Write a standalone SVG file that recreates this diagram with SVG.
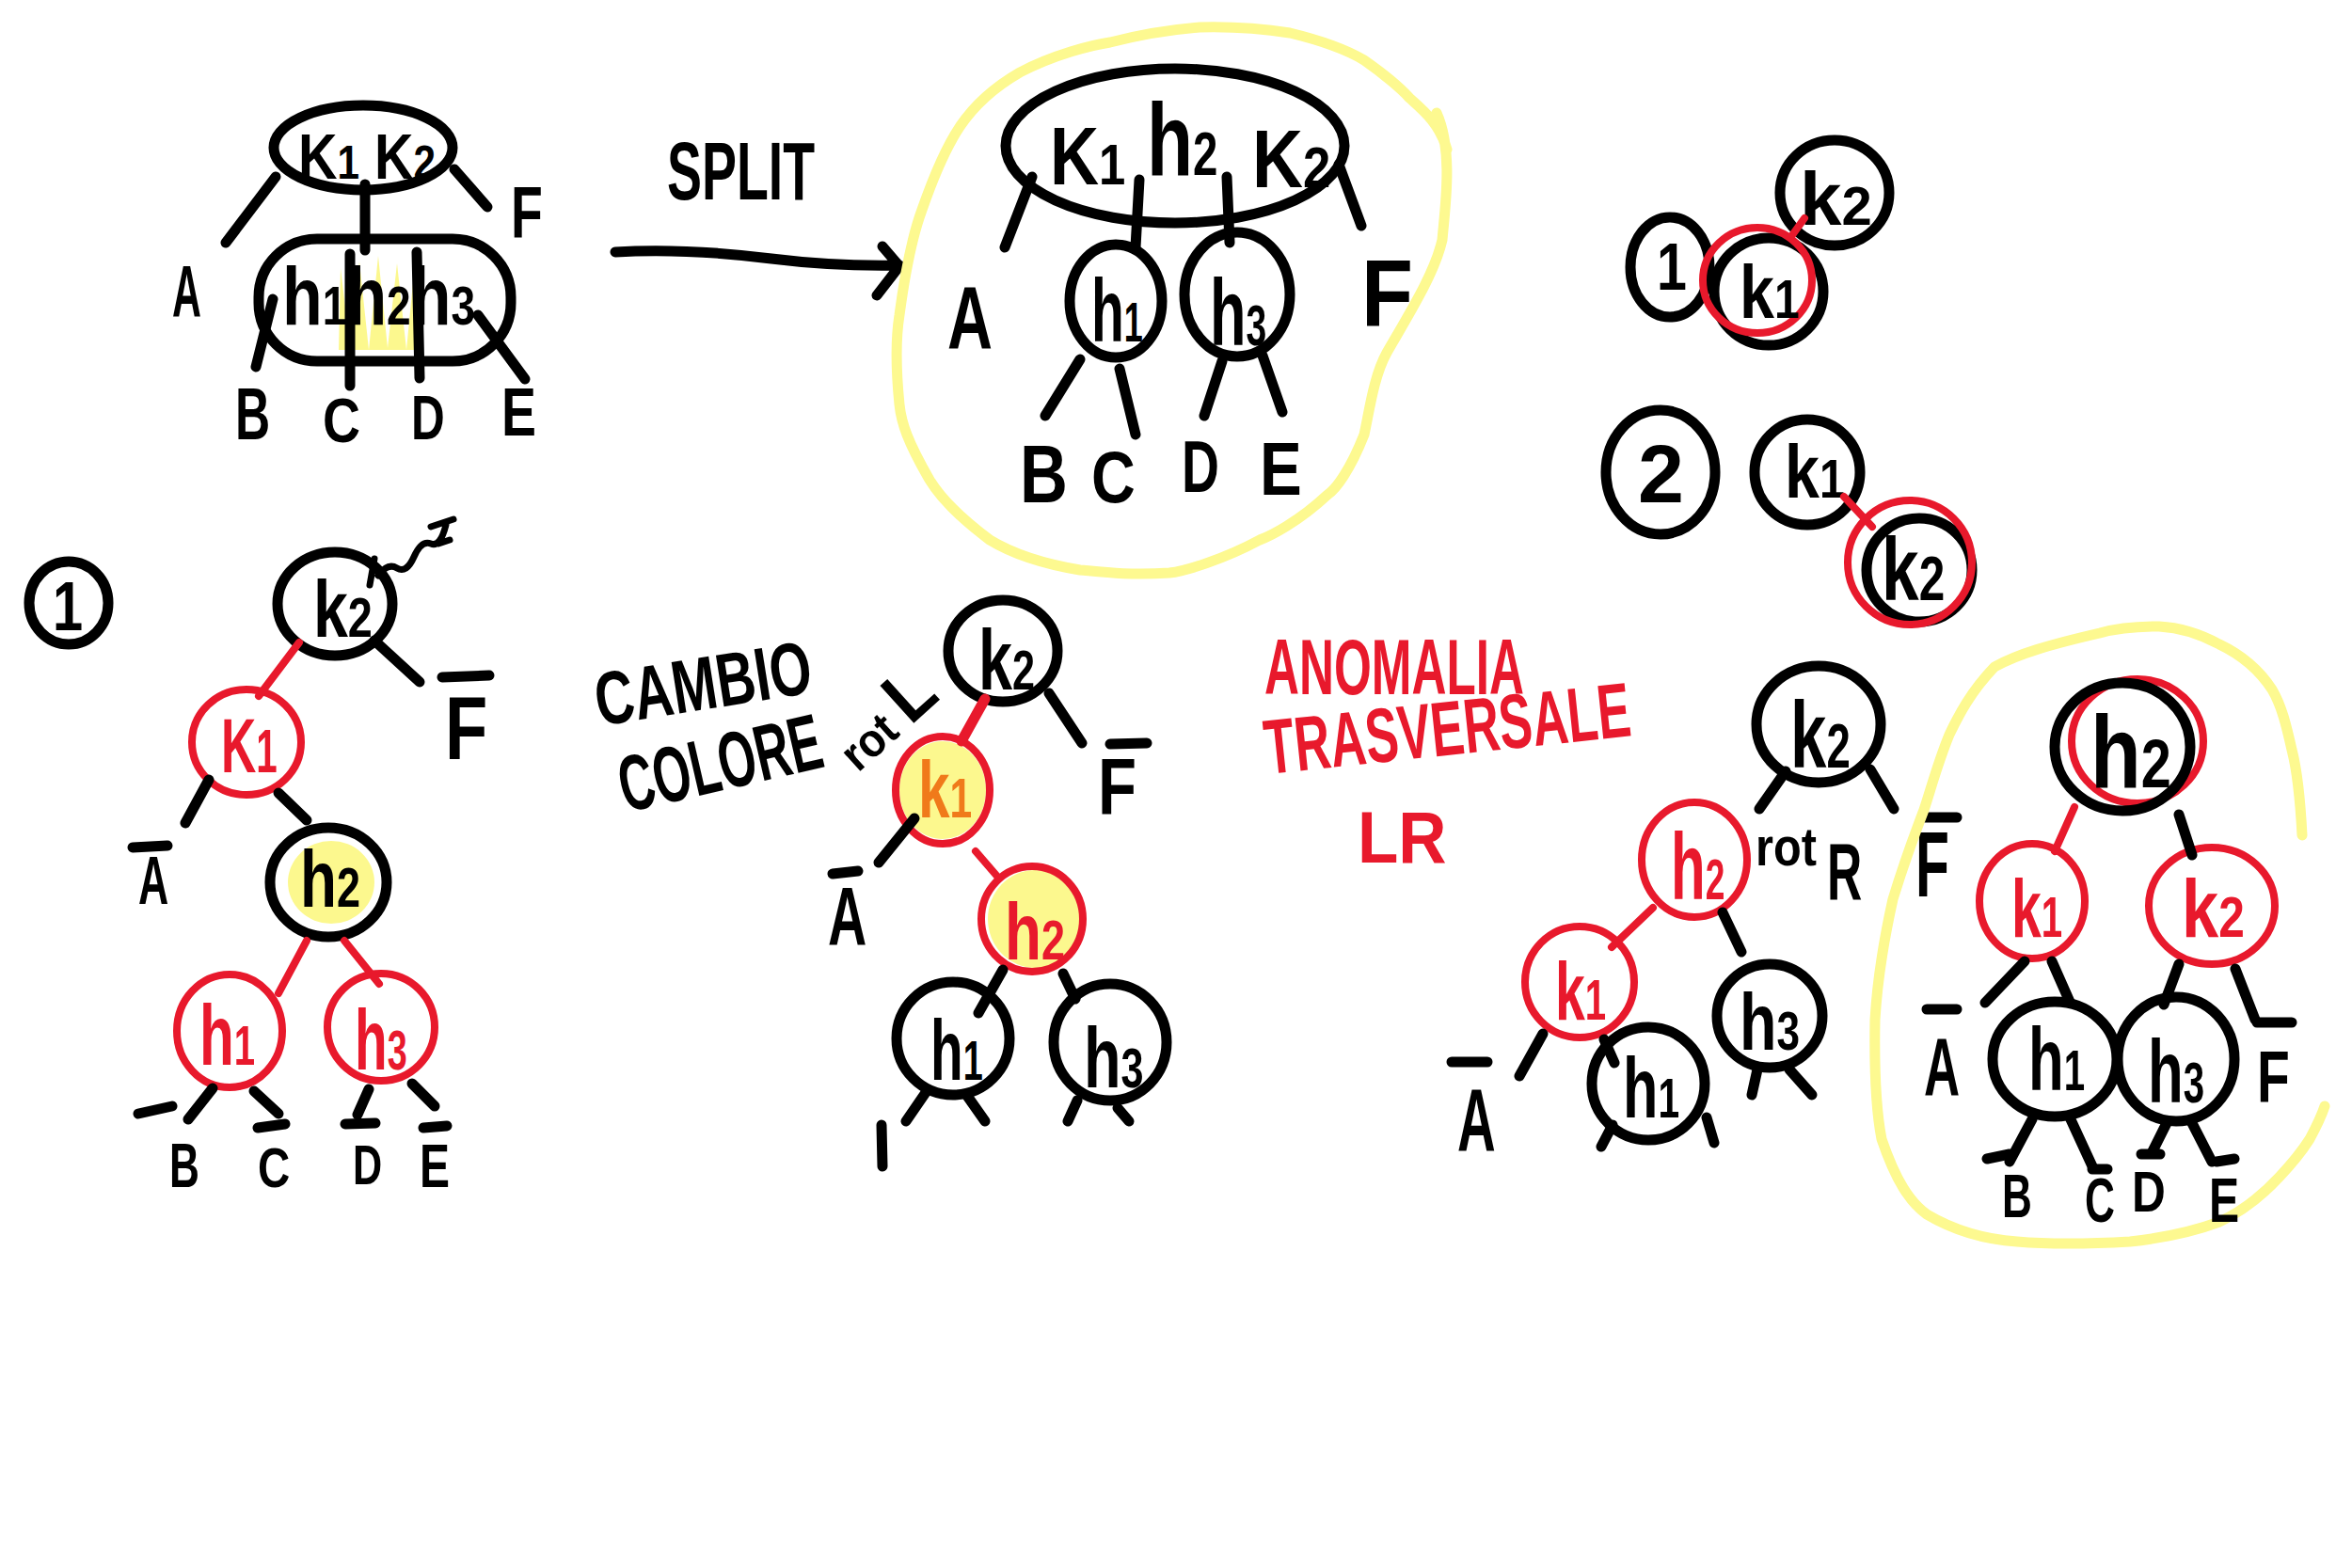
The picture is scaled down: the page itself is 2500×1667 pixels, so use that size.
<svg xmlns="http://www.w3.org/2000/svg" width="2500" height="1667" viewBox="0 0 2500 1667">
<defs>
<style>
.b{fill:none;stroke:#000;stroke-width:11;stroke-linecap:round;stroke-linejoin:round}
.r{fill:none;stroke:#e8192c;stroke-width:8;stroke-linecap:round;stroke-linejoin:round}
.y{fill:none;stroke:#fdf990;stroke-width:11;stroke-linecap:round;stroke-linejoin:round}
.yf{fill:#fcf77a;opacity:0.85}
.t{font-family:"Liberation Sans","DejaVu Sans",sans-serif;font-weight:700;fill:#000}
.tr{font-family:"Liberation Sans","DejaVu Sans",sans-serif;font-weight:700;fill:#e8192c}
.to{font-family:"Liberation Sans","DejaVu Sans",sans-serif;font-weight:700;fill:#f07a1a}
</style>
</defs>
<rect width="2500" height="1667" fill="#fff"/>

<!-- ===== Top-left: node before split ===== -->
<g id="tl-top">
<ellipse class="b" cx="386" cy="157" rx="95" ry="45"/>
<text class="t" transform="translate(317 190) scale(0.845 1)" font-size="68">K<tspan font-size="50">1</tspan> K<tspan font-size="50">2</tspan></text>
</g>
<g id="tl-bottom">
<path class="yf" d="M362,285 L372,368 L382,278 L392,372 L402,272 L412,370 L422,280 L432,372 L440,290 L440,372 L360,372 Z"/>
<rect class="b" x="275" y="254" width="268" height="130" rx="62"/>
<text class="t" transform="translate(300 345) scale(0.795 1)" font-size="88">h<tspan font-size="58">1</tspan>h<tspan font-size="58">2</tspan>h<tspan font-size="58">3</tspan></text>
</g>
<g id="tl-leaves">
<text class="t" transform="translate(183 337) scale(0.55 1)" font-size="78">A</text>
<text class="t" transform="translate(543 253) scale(0.71 1)" font-size="78">F</text>
<text class="t" transform="translate(250 467) scale(0.66 1)" font-size="78">B</text>
<text class="t" transform="translate(343 470) scale(0.84 1)" font-size="66">C</text>
<text class="t" transform="translate(437 467) scale(0.75 1)" font-size="66">D</text>
<text class="t" transform="translate(533 463) scale(0.77 1)" font-size="72">E</text>
</g>
<g id="tl-connectors">
<path class="b" d="M388,196 L388,266 M293,188 L240,258 M483,180 L518,220 M372,270 L372,410 M443,268 L446,402 M290,318 L272,390 M508,335 L558,403"/>
</g>

<!-- ===== SPLIT arrow ===== -->
<g id="split">
<text class="t" transform="translate(709 212) scale(0.63 1)" font-size="88">SPLIT</text>
<path class="b" d="M654,268 C720,264 780,270 820,275 S900,283 956,282 M938,262 L956,283 L932,314"/>
</g>

<!-- ===== Split result ===== -->
<g id="split-result">
<path class="y" d="M1527,120 C1545,160 1536,220 1533,255 C1525,290 1500,330 1474,375 C1460,400 1455,440 1450,462 C1435,500 1420,520 1411,526 C1380,555 1350,570 1339,574 C1300,595 1260,607 1243,609 C1200,612 1170,608 1148,606 C1100,598 1070,585 1052,574 C1020,550 1000,530 988,510 C965,470 958,450 956,430 C952,390 952,360 956,335 C962,290 970,250 980,223 C995,180 1010,150 1020,135 C1040,105 1065,88 1084,77 C1120,58 1160,48 1180,45 C1215,36 1250,31 1275,29 C1310,28 1345,31 1371,35 C1400,42 1430,52 1450,64 C1470,78 1490,95 1498,104 C1510,115 1530,130 1538,159"/>
<ellipse class="b" cx="1249" cy="155" rx="180" ry="82"/>
<text class="t" transform="translate(1116 196) scale(0.82 1)" font-size="88">K<tspan font-size="62">1</tspan></text>
<text class="t" transform="translate(1219 186) scale(0.73 1)" font-size="110">h<tspan font-size="65">2</tspan></text>
<text class="t" transform="translate(1331 199) scale(0.85 1)" font-size="88">K<tspan font-size="62">2</tspan></text>
</g>
<g id="sr-h1">
<ellipse class="b" cx="1186" cy="320" rx="49" ry="60"/>
<text class="t" transform="translate(1160 363) scale(0.6 1)" font-size="95">h<tspan font-size="60">1</tspan></text>
</g>
<g id="sr-h3">
<ellipse class="b" cx="1315" cy="313" rx="56" ry="66"/>
<text class="t" transform="translate(1286 367) scale(0.63 1)" font-size="100">h<tspan font-size="62">3</tspan></text>
</g>
<g id="sr-leaves">
<text class="t" transform="translate(1007 371) scale(0.7 1)" font-size="95">A</text>
<text class="t" transform="translate(1447 346) scale(0.9 1)" font-size="100">F</text>
<text class="t" transform="translate(1084 534) scale(0.8 1)" font-size="88">B</text>
<text class="t" transform="translate(1160 534) scale(0.83 1)" font-size="78">C</text>
<text class="t" transform="translate(1256 523) scale(0.71 1)" font-size="78">D</text>
<text class="t" transform="translate(1339 526) scale(0.84 1)" font-size="80">E</text>
</g>
<g id="sr-connectors">
<path class="b" d="M1097,188 L1068,263 M1423,175 L1447,240 M1211,191 L1207,263 M1304,188 L1307,258 M1148,382 L1111,442 M1190,392 L1207,462 M1299,384 L1280,442 M1342,378 L1363,438"/>
</g>

<!-- ===== Small cases ===== -->
<g id="case1-label">
<ellipse class="b" cx="1775" cy="284" rx="42" ry="53"/>
<text class="t" transform="translate(1761 308) scale(0.82 1)" font-size="70">1</text>
</g>
<g id="case1-k2">
<ellipse class="b" cx="1950" cy="205" rx="58" ry="56"/>
<text class="t" transform="translate(1913 239)" font-size="80">k<tspan font-size="58">2</tspan></text>
</g>
<g id="case1-k1">
<ellipse class="b" cx="1880" cy="310" rx="58" ry="57"/>
<ellipse class="r" cx="1868" cy="298" rx="58" ry="56"/>
<text class="t" transform="translate(1849 338) scale(0.83 1)" font-size="80">k<tspan font-size="58">1</tspan></text>
</g>
<g id="case2-label">
<ellipse class="b" cx="1765" cy="502" rx="58" ry="66"/>
<text class="t" transform="translate(1741 534)" font-size="88">2</text>
</g>
<g id="case2-k1">
<ellipse class="b" cx="1921" cy="502" rx="56" ry="56"/>
<text class="t" transform="translate(1897 529) scale(0.83 1)" font-size="80">k<tspan font-size="58">1</tspan></text>
</g>
<g id="case2-k2">
<ellipse class="b" cx="2040" cy="606" rx="56" ry="55"/>
<ellipse class="r" cx="2030" cy="598" rx="66" ry="66"/>
<text class="t" transform="translate(2000 638) scale(0.75 1)" font-size="95">k<tspan font-size="66">2</tspan></text>
</g>
<g id="cases-connectors">
<path class="r" d="M1905,250 L1918,232 M1960,528 L1990,560"/>
</g>

<!-- ===== Middle-left tree (1) ===== -->
<g id="m1-label">
<ellipse class="b" cx="73" cy="641" rx="42" ry="44"/>
<text class="t" transform="translate(56 670) scale(0.77 1)" font-size="75">1</text>
</g>
<g id="m1-k2">
<ellipse class="b" cx="356" cy="642" rx="61" ry="55"/>
<text class="t" transform="translate(333 677) scale(0.78 1)" font-size="85">k<tspan font-size="60">2</tspan></text>
<path class="b" style="stroke-width:7" d="M393,622 L398,594 M402,612 q10,-14 20,-8 t18,-12 t18,-14 t16,-20 M458,560 L482,552 M466,578 L478,574"/>
</g>
<g id="m1-K1">
<ellipse class="r" cx="262" cy="789" rx="58" ry="56"/>
<text class="tr" transform="translate(235 821) scale(0.63 1)" font-size="82">K<tspan font-size="64">1</tspan></text>
</g>
<g id="m1-h2">
<ellipse class="yf" cx="352" cy="938" rx="46" ry="44"/>
<ellipse class="b" cx="349" cy="938" rx="62" ry="58"/>
<text class="t" transform="translate(319 964) scale(0.75 1)" font-size="85">h<tspan font-size="60">2</tspan></text>
</g>
<g id="m1-h1">
<ellipse class="r" cx="244" cy="1096" rx="56" ry="60"/>
<text class="tr" transform="translate(212 1132) scale(0.67 1)" font-size="90">h<tspan font-size="60">1</tspan></text>
</g>
<g id="m1-h3">
<ellipse class="r" cx="405" cy="1092" rx="57" ry="57"/>
<text class="tr" transform="translate(377 1137) scale(0.63 1)" font-size="90">h<tspan font-size="60">3</tspan></text>
</g>
<g id="m1-leaves">
<path class="b" d="M470,720 L520,718 M141,901 L178,899 M147,1184 L183,1176 M274,1199 L303,1195 M367,1195 L399,1194 M450,1199 L475,1197"/>
<text class="t" transform="translate(473 807) scale(0.78 1)" font-size="95">F</text>
<text class="t" transform="translate(147 961) scale(0.62 1)" font-size="72">A</text>
<text class="t" transform="translate(180 1262) scale(0.67 1)" font-size="66">B</text>
<text class="t" transform="translate(274 1262) scale(0.79 1)" font-size="60">C</text>
<text class="t" transform="translate(375 1259) scale(0.72 1)" font-size="60">D</text>
<text class="t" transform="translate(446 1262) scale(0.75 1)" font-size="64">E</text>
</g>
<g id="m1-connectors">
<path class="b" d="M398,681 L446,725 M222,829 L197,875 M296,843 L326,872 M226,1157 L200,1190 M270,1160 L296,1184 M392,1158 L380,1185 M438,1152 L462,1176"/>
<path class="r" d="M318,683 L275,740 M326,1000 L296,1056 M366,1000 L403,1046"/>
</g>

<!-- ===== CAMBIO COLORE tree ===== -->
<g id="cambio-text">
<text class="t" transform="translate(637 772) rotate(-9) scale(0.715 1)" font-size="80">CAMBIO</text>
<text class="t" transform="translate(665 864) rotate(-13) scale(0.61 1)" font-size="84">COLORE</text>
<text class="t" transform="translate(912 822) rotate(-42) scale(0.93 1)" font-size="50">rot <tspan font-size="78">L</tspan></text>
</g>
<g id="c-k2">
<ellipse class="b" cx="1066" cy="692" rx="58" ry="54"/>
<text class="t" transform="translate(1040 733) scale(0.72 1)" font-size="90">k<tspan font-size="60">2</tspan></text>
</g>
<g id="c-k1">
<ellipse class="yf" cx="1002" cy="840" rx="46" ry="52"/>
<ellipse class="r" cx="1002" cy="840" rx="50" ry="57"/>
<text class="to" transform="translate(976 869) scale(0.71 1)" font-size="85">k<tspan font-size="60">1</tspan></text>
</g>
<g id="c-h2">
<ellipse class="yf" cx="1100" cy="977" rx="50" ry="52"/>
<ellipse class="r" cx="1097" cy="977" rx="54" ry="56"/>
<text class="tr" transform="translate(1068 1020) scale(0.75 1)" font-size="85">h<tspan font-size="60">2</tspan></text>
</g>
<g id="c-h1">
<ellipse class="b" cx="1013" cy="1104" rx="60" ry="60"/>
<text class="t" transform="translate(989 1148) scale(0.63 1)" font-size="90">h<tspan font-size="60">1</tspan></text>
</g>
<g id="c-h3">
<ellipse class="b" cx="1180" cy="1108" rx="60" ry="62"/>
<text class="t" transform="translate(1152 1156) scale(0.72 1)" font-size="90">h<tspan font-size="60">3</tspan></text>
</g>
<g id="c-leaves">
<path class="b" d="M1180,791 L1219,790 M885,929 L912,926"/>
<text class="t" transform="translate(1167 866) scale(0.79 1)" font-size="85">F</text>
<text class="t" transform="translate(880 1004) scale(0.65 1)" font-size="88">A</text>
</g>
<g id="c-connectors">
<path class="b" d="M1115,737 L1150,790 M972,870 L934,917 M1066,1031 L1040,1077 M1130,1035 L1143,1062 M985,1160 L963,1192 M1028,1165 L1047,1192 M937,1196 L938,1240 M1145,1170 L1135,1192 M1188,1178 L1200,1192"/>
<path class="r" style="stroke-width:11" d="M1047,743 L1022,788"/>
<path class="r" d="M1037,905 L1062,934"/>
</g>

<!-- ===== ANOMALIA TRASVERSALE LR ===== -->
<g id="anomalia">
<text class="tr" transform="translate(1344 738) scale(0.61 1)" font-size="84">ANOMALIA</text>
<text class="tr" transform="translate(1347 823) rotate(-6) scale(0.64 1)" font-size="82">TRASVERSALE</text>
<text class="tr" transform="translate(1443 917) scale(0.91 1)" font-size="78">LR</text>
</g>

<!-- ===== Right tree before rotation ===== -->
<g id="r-k2">
<ellipse class="b" cx="1933" cy="770" rx="66" ry="62"/>
<text class="t" transform="translate(1903 816) scale(0.69 1)" font-size="100">k<tspan font-size="66">2</tspan></text>
</g>
<g id="r-rotR">
<text class="t" transform="translate(1866 920) scale(0.84 1)" font-size="58">rot</text>
<text class="t" transform="translate(1942 956) scale(0.6 1)" font-size="86">R</text>
</g>
<g id="r-h2">
<ellipse class="r" cx="1801" cy="914" rx="56" ry="61"/>
<text class="tr" transform="translate(1776 956) scale(0.6 1)" font-size="100">h<tspan font-size="62">2</tspan></text>
</g>
<g id="r-k1">
<ellipse class="r" cx="1679" cy="1044" rx="58" ry="59"/>
<text class="tr" transform="translate(1653 1084) scale(0.65 1)" font-size="88">k<tspan font-size="62">1</tspan></text>
</g>
<g id="r-h1">
<ellipse class="b" cx="1752" cy="1152" rx="60" ry="60"/>
<text class="t" transform="translate(1725 1188) scale(0.68 1)" font-size="90">h<tspan font-size="60">1</tspan></text>
</g>
<g id="r-h3">
<ellipse class="b" cx="1881" cy="1080" rx="56" ry="55"/>
<text class="t" transform="translate(1849 1116) scale(0.76 1)" font-size="85">h<tspan font-size="58">3</tspan></text>
</g>
<g id="r-leaves">
<path class="b" d="M2045,869 L2080,869 M1543,1129 L1581,1129"/>
<text class="t" transform="translate(2036 953) scale(0.6 1)" font-size="98">F</text>
<text class="t" transform="translate(1549 1224) scale(0.6 1)" font-size="94">A</text>
</g>
<g id="r-connectors">
<path class="b" d="M1898,820 L1870,860 M1988,818 L2013,860 M1831,970 L1851,1012 M1640,1099 L1615,1144 M1705,1105 L1716,1130 M1714,1196 L1702,1219 M1814,1188 L1822,1215 M1868,1137 L1862,1164 M1902,1137 L1926,1164"/>
<path class="r" d="M1757,965 L1713,1007"/>
</g>

<!-- ===== Final tree ===== -->
<g id="final-outline">
<path class="y" d="M2447,888 C2445,850 2442,820 2436,797 C2430,770 2425,750 2415,733 C2400,710 2380,695 2359,685 C2335,672 2315,667 2295,666 C2270,666 2250,668 2232,673 C2180,685 2145,695 2120,709 C2095,735 2082,760 2072,781 C2060,810 2052,840 2045,861 C2030,900 2020,930 2012,956 C2000,1010 1995,1050 1993,1084 C1992,1140 1994,1180 2000,1211 C2015,1255 2030,1278 2048,1291 C2080,1310 2115,1318 2144,1320 C2190,1324 2230,1322 2264,1320 C2300,1316 2335,1308 2359,1299 C2390,1285 2410,1265 2423,1251 C2438,1235 2448,1222 2455,1211 C2462,1198 2467,1188 2471,1176"/>
</g>
<g id="f-h2">
<ellipse class="r" cx="2272" cy="788" rx="70" ry="66"/>
<ellipse class="b" cx="2256" cy="794" rx="72" ry="68"/>
<text class="t" transform="translate(2222 837) scale(0.8 1)" font-size="110">h<tspan font-size="72">2</tspan></text>
</g>
<g id="f-k1">
<ellipse class="r" cx="2160" cy="958" rx="56" ry="61"/>
<text class="tr" transform="translate(2138 996) scale(0.65 1)" font-size="88">k<tspan font-size="62">1</tspan></text>
</g>
<g id="f-k2">
<ellipse class="r" cx="2351" cy="963" rx="67" ry="62"/>
<text class="tr" transform="translate(2319 996) scale(0.8 1)" font-size="88">k<tspan font-size="62">2</tspan></text>
</g>
<g id="f-h1">
<ellipse class="b" cx="2184" cy="1126" rx="66" ry="61"/>
<text class="t" transform="translate(2156 1159) scale(0.65 1)" font-size="95">h<tspan font-size="62">1</tspan></text>
</g>
<g id="f-h3">
<ellipse class="b" cx="2313" cy="1126" rx="62" ry="66"/>
<text class="t" transform="translate(2283 1172) scale(0.65 1)" font-size="95">h<tspan font-size="62">3</tspan></text>
</g>
<g id="f-leaves">
<path class="b" d="M2048,1073 L2080,1073 M2399,1087 L2436,1087 M2112,1232 L2136,1227 M2224,1243 L2240,1243 M2276,1227 L2296,1227 M2356,1235 L2375,1232"/>
<text class="t" transform="translate(2045 1164) scale(0.6 1)" font-size="88">A</text>
<text class="t" transform="translate(2399 1172) scale(0.73 1)" font-size="78">F</text>
<text class="t" transform="translate(2128 1294) scale(0.69 1)" font-size="64">B</text>
<text class="t" transform="translate(2216 1299) scale(0.67 1)" font-size="66">C</text>
<text class="t" transform="translate(2266 1288) scale(0.8 1)" font-size="62">D</text>
<text class="t" transform="translate(2348 1299) scale(0.73 1)" font-size="66">E</text>
</g>
<g id="f-connectors">
<path class="r" d="M2205,858 L2184,905"/>
<path class="b" d="M2316,866 L2330,909 M2152,1022 L2110,1066 M2181,1022 L2200,1065 M2316,1025 L2300,1068 M2376,1030 L2397,1084 M2160,1190 L2136,1235 M2200,1188 L2224,1240 M2303,1194 L2288,1224 M2330,1194 L2351,1235"/>
</g>
</svg>
